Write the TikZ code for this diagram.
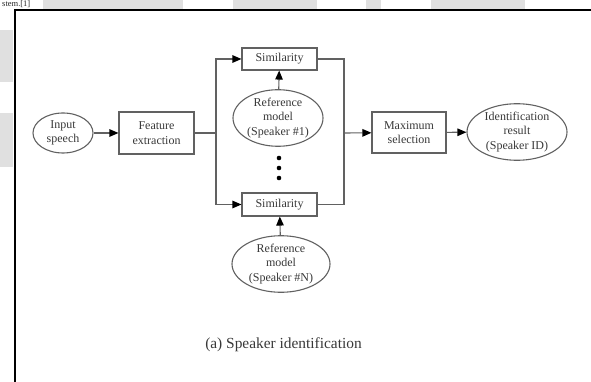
\documentclass[tikz,border=0pt]{standalone}
\usepackage{fontspec}
\setmainfont{Liberation Serif}
\usetikzlibrary{shapes.geometric,arrows.meta}
\begin{document}
\begin{tikzpicture}[x=1pt,y=-1pt,
  every node/.style={font=\fontsize{12}{14.5}\selectfont, text=black!78, align=center, inner sep=0pt},
  blk/.style={draw=black!62, line width=1.1pt, rectangle},
  ell/.style={draw=black!62, line width=1.1pt, ellipse},
  conn/.style={draw=black!62, line width=1.1pt},
  arr/.style={conn, -{Triangle[length=9pt,width=7.5pt,fill=black,color=black]}},
  band/.style={fill=black!12, draw=none},
  frameline/.style={draw=black, line width=2pt}]
\useasboundingbox (0,0) rectangle (591,382);
% screenshot background bands
\fill[band] (43,0) rectangle (183,9);
\fill[band] (233,0) rectangle (317,9);
\fill[band] (366,0) rectangle (381,9);
\fill[band] (431,0) rectangle (525,9);
\fill[band] (0,30) rectangle (13,82);
\fill[band] (0,113) rectangle (13,167);
\node[anchor=base west, font=\fontsize{8.5}{9}\selectfont, text=black!85] (top) at (2,7) {stem.[1]};
% frame
\draw[frameline] (15,382) -- (15,10) -- (591,10);
% nodes
\node[ell, minimum width=60, minimum height=40] (in) at (63,133) {Input\\speech};
\node[blk, minimum width=75, minimum height=42] (fe) at (156.5,133) {Feature\\extraction};
\node[blk, minimum width=75, minimum height=22] (s1) at (279.5,59) {Similarity};
\node[blk, minimum width=75, minimum height=23] (sN) at (279.5,204.5) {Similarity};
\node[ell, minimum width=90, minimum height=53] (r1) at (278,118) {Reference\\model\\(Speaker \#1)};
\node[ell, minimum width=98, minimum height=55] (rN) at (281,264) {Reference\\model\\(Speaker \#N)};
\node[blk, minimum width=74, minimum height=41] (ms) at (409,132.5) {Maximum\\selection};
\node[ell, minimum width=100, minimum height=55] (id) at (517,132) {Identification\\result\\(Speaker ID)};
\node[font=\fontsize{15.4}{18}\selectfont] (cap) at (283.5,345) {(a) Speaker identification};
% dots
\fill[black] (279,158) circle (2.3);
\fill[black] (279,168) circle (2.3);
\fill[black] (279,178) circle (2.3);
% connectors
\coordinate (sp) at (216,133);
\coordinate (mg) at (344,133);
\draw[arr] (in) -- (fe);
\draw[conn] (fe) -- (sp);
\draw[arr] (sp) |- (s1);
\draw[arr] (sp) |- (sN);
\draw[conn] (s1) -| (mg);
\draw[conn] (sN) -| (mg);
\draw[arr] (mg) -- (ms);
\draw[arr] (ms) -- (id);
\draw[arr] (r1) -- (s1);
\draw[arr] (rN) -- (sN);
\end{tikzpicture}
\end{document}
